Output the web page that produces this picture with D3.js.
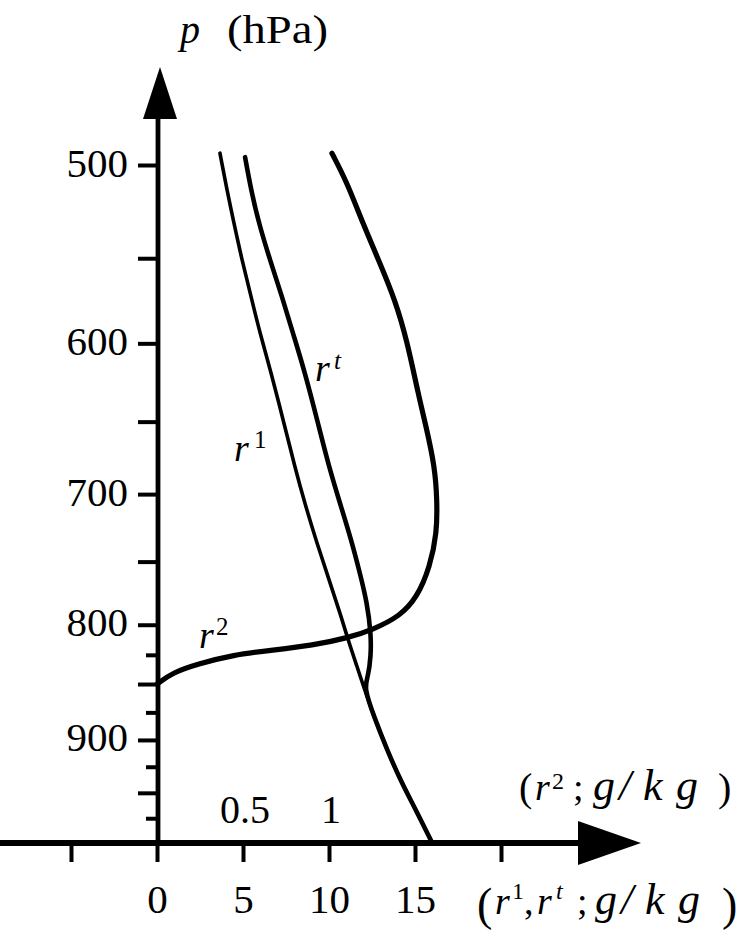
<!DOCTYPE html>
<html><head><meta charset="utf-8">
<script src="https://cdn.jsdelivr.net/npm/d3@7"></script>
<style>
html,body{margin:0;padding:0;background:#fff;}
svg{display:block;}
text{font-family:"Liberation Serif","Times New Roman",serif;fill:#000;}
</style>
</head><body>
<svg id="chart" width="746" height="942"></svg>
<script>
// ---- data ----
const xTicks = [-5, 0, 5, 10, 15, 20];
const xTickLabels = ["", "0", "5", "10", "15", ""];
const r2TickValues = [0.5, 1];
const r2TickLabels = ["0.5", "1"];
const pTicks = [500, 550, 600, 650, 700, 750, 800, 825, 850, 875, 900, 925, 950, 975];
const pTickLabels = [500, 600, 700, 800, 900];

// r1 (vapour, g/kg)
const pR1 = [494, 513, 531, 551, 572, 594, 618, 651, 681, 707, 736, 764, 793, 812, 835, 853, 879, 909, 941, 967, 1000];
const r1  = [3.66, 4.07, 4.48, 4.94, 5.47, 5.99, 6.63, 7.38, 8.02, 8.60, 9.30, 10.0, 10.70, 11.10, 11.63, 12.03, 12.62, 13.37, 14.24, 15.06, 16.0];
// rt (total water, g/kg)
const pRt = [496, 513, 531, 551, 572, 594, 618, 651, 681, 709, 733, 759, 782, 807, 826, 844, 853, 879, 909, 941, 967, 1000];
const rt  = [5.12, 5.47, 5.93, 6.57, 7.27, 7.91, 8.60, 9.36, 10.0, 10.70, 11.28, 11.80, 12.21, 12.44, 12.44, 12.27, 12.03, 12.62, 13.37, 14.24, 15.06, 16.0];
// r2 (liquid water, g/kg, own scale)
const pR2 = [494, 509, 531, 553, 574, 598, 634, 651, 681, 704, 728, 754, 778, 793, 804, 811, 817, 821, 825, 833, 840, 850];
const r2  = [1.017, 1.105, 1.198, 1.297, 1.384, 1.453, 1.523, 1.56, 1.616, 1.628, 1.628, 1.587, 1.512, 1.413, 1.256, 1.105, 0.907, 0.674, 0.442, 0.233, 0.093, 0.0];

// ---- scales ----
const svg = d3.select("#chart");
const x  = d3.scaleLinear().domain([-5, 20]).range([71, 501]);
const x2 = d3.scaleLinear().domain([-0.5, 2]).range([71, 501]);
const y  = d3.scaleLog().domain([500, 1000]).range([165, 843]);
const yAxisX = 158;
const xAxisY = y(1000);

svg.append("rect").attr("width", 746).attr("height", 942).attr("fill", "#fff");

// ---- x axis ----
svg.append("line").attr("x1", 0).attr("x2", 582).attr("y1", xAxisY).attr("y2", xAxisY)
  .attr("stroke", "#000").attr("stroke-width", 6);
svg.append("polygon")
  .attr("points", [[578, xAxisY - 22], [641, xAxisY], [578, xAxisY + 22]].map(p => p.join(",")).join(" "))
  .attr("fill", "#000");
const gx = svg.append("g").attr("transform", `translate(0,${xAxisY})`)
  .call(d3.axisBottom(x).tickValues(xTicks).tickSize(19).tickFormat((d, i) => xTickLabels[i]));
gx.select(".domain").remove();
gx.selectAll(".tick line").attr("stroke", "#000").attr("stroke-width", 4);
gx.selectAll(".tick text").attr("y", 70).attr("dy", null)
  .style("font-size", "41px").style("font-family", "Liberation Serif");

// r2 scale labels above axis
svg.selectAll(".r2lab").data(r2TickValues).enter().append("text")
  .attr("class", "r2lab")
  .attr("x", d => x2(d) + 2).attr("y", 823)
  .attr("text-anchor", "middle")
  .style("font-size", "40px")
  .text((d, i) => r2TickLabels[i]);

// ---- y axis ----
svg.append("line").attr("x1", yAxisX).attr("x2", yAxisX).attr("y1", 116).attr("y2", xAxisY + 2)
  .attr("stroke", "#000").attr("stroke-width", 4.8);
svg.append("polygon")
  .attr("points", [[160, 67], [177, 119], [143, 119]].map(p => p.join(",")).join(" "))
  .attr("fill", "#000");
const gy = svg.append("g").attr("transform", `translate(${yAxisX},0)`)
  .call(d3.axisLeft(y).tickValues(pTicks).tickSize(20)
    .tickFormat(d => pTickLabels.includes(d) ? String(d) : ""));
gy.select(".domain").remove();
gy.selectAll(".tick line").attr("stroke", "#000").attr("stroke-width", 4)
  .attr("x2", d => (d % 50 === 0 ? -20 : -12));
gy.selectAll(".tick text").attr("x", -30).attr("dy", null).attr("y", 11)
  .style("font-size", "41px").style("font-family", "Liberation Serif");

// ---- curves ----
const lineGen = (xs) => d3.line()
  .x(d => xs(d[1])).y(d => y(d[0]))
  .curve(d3.curveBasis);

function drawCurve(ps, vs, xs, w) {
  svg.append("path").datum(ps.map((p, i) => [p, vs[i]]))
    .attr("d", lineGen(xs)).attr("fill", "none").attr("stroke", "#000")
    .attr("stroke-width", w).attr("stroke-linecap", "round").attr("stroke-linejoin", "round");
}
drawCurve(pR1, r1, x, 3.6);
drawCurve(pRt, rt, x, 4.6);
drawCurve(pR2, r2, x2, 5.2);

// ---- text labels ----
function txt(s, xp, yp, size, italic, extra) {
  const t = svg.append("text").attr("x", xp).attr("y", yp)
    .style("font-size", size + "px")
    .style("font-style", italic ? "italic" : "normal")
    .text(s);
  if (extra) extra(t);
  return t;
}
// axis title
txt("p", 180, 43, 40, true);
txt("(hPa)", 227, 43, 41, false, t => t.attr("textLength", 101).attr("lengthAdjust", "spacingAndGlyphs"));

// curve labels
txt("r", 315, 381, 38, true); txt("t", 334, 369, 25, true);
txt("r", 234, 461, 38, true); txt("1", 254, 448, 25, false);
txt("r", 199, 648, 38, true); txt("2", 216, 635, 25, false);

// r2 unit label
txt("(", 519, 801, 40, false);
txt("r", 535, 800, 38, true);
txt("2", 552, 789, 24, false);
txt(";", 573, 800, 38, false);
txt("g/kg", "593 619 643 676", 800, 44, true);
txt(")", 718, 801, 40, false);

// r1, rt unit label
txt("(", 477, 920, 46, false);
txt("r", 495, 914, 38, true);
txt("1", 512, 899, 24, false);
txt(",", 524, 914, 38, false);
txt("r", 537, 914, 38, true);
txt("t", 556, 899, 24, true);
txt(";", 577, 914, 38, false);
txt("g/kg", "595 621 645 678", 914, 44, true);
txt(")", 722, 920, 46, false);
</script>
</body></html>
